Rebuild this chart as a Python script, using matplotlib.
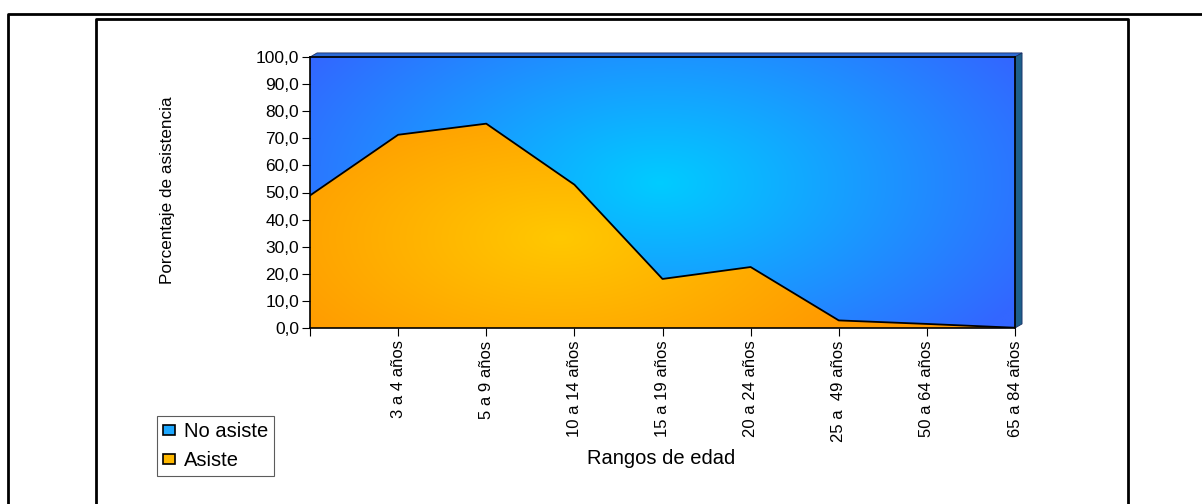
import numpy as np
import matplotlib.pyplot as plt
from matplotlib.lines import Line2D
from matplotlib.patches import Patch
from matplotlib.colors import to_rgb

plt.rcParams['font.family'] = ['Liberation Sans', 'DejaVu Sans']

# datos: porcentaje de asistencia por rango de edad
rangos = ['', '3 a 4 años', '5 a 9 años', '10 a 14 años', '15 a 19 años',
          '20 a 24 años', '25 a  49 años', '50 a 64 años', '65 a 84 años']
asiste = [48.9, 71.3, 75.4, 52.9, 18.1, 22.5, 2.8, 1.5, 0.1]
no_asiste = [100 - v for v in asiste]

fig = plt.figure(figsize=(12.02, 5.04), dpi=100)
ax = fig.add_axes([310 / 1202, 1 - 328 / 504, 705 / 1202, 271 / 504])

x = np.arange(len(rangos))
top = np.array(asiste) + np.array(no_asiste)


def gradient(c_in, c_out, cx, cy, rx, ry):
    # degradado radial en espacio de pixeles sobre los ejes
    gx = np.linspace(0, 8, 400)
    gy = np.linspace(0, 100, 300)
    X, Y = np.meshgrid(gx * 88.1, gy * 2.71)
    d = np.sqrt(((X - cx) / rx) ** 2 + ((Y - cy) / ry) ** 2)
    t = np.clip(d, 0, 1)[..., None]
    a = np.array(to_rgb(c_in))
    b = np.array(to_rgb(c_out))
    return a * (1 - t) + b * t


blue = ax.fill_between(x, asiste, top, color='none')
orange = ax.fill_between(x, 0, asiste, color='none')

im_b = ax.imshow(gradient('#00ccff', '#3366ff', 350, 145, 420, 230),
                 extent=[0, 8, 0, 100], origin='lower', aspect='auto', zorder=1)
im_b.set_clip_path(blue.get_paths()[0], ax.transData)
im_o = ax.imshow(gradient('#ffc800', '#ff9900', 250, 90, 330, 160),
                 extent=[0, 8, 0, 100], origin='lower', aspect='auto', zorder=1)
im_o.set_clip_path(orange.get_paths()[0], ax.transData)

ax.plot(x, asiste, color='black', linewidth=1.3, zorder=3)

# efecto 3D: cara superior y lateral
dx, dy = 0.08, 1.5
ax.fill([0, dx, 8 + dx, 8], [100, 100 + dy, 100 + dy, 100],
        color='#2d6bd6', edgecolor='#1a2f66', linewidth=0.6, clip_on=False, zorder=2)
ax.fill([8, 8 + dx, 8 + dx, 8], [0, dy, 100 + dy, 100],
        color='#1d5f8a', edgecolor='#1a2f66', linewidth=0.6, clip_on=False, zorder=2)

ax.set_xlim(0, 8)
ax.set_ylim(0, 100)
ax.set_yticks(np.arange(0, 101, 10))
ax.set_yticklabels([f'{v:.1f}'.replace('.', ',') for v in np.arange(0, 101, 10)])
ax.set_xticks(x)
ax.set_xticklabels(rangos, rotation=90)
ax.tick_params(axis='y', labelsize=12.5, length=6, width=0.8, pad=2)
ax.tick_params(axis='x', labelsize=12, length=6, width=0.8, pad=3)
for s in ax.spines.values():
    s.set_color('black')
    s.set_linewidth(1.2)
    s.set_zorder(4)

fig.text(168 / 1202, 1 - 190 / 504, 'Porcentaje de asistencia', rotation=90,
         ha='center', va='center', fontsize=12.3)
fig.text(661 / 1202, 1 - 458 / 504, 'Rangos de edad', ha='center', va='center',
         fontsize=14.5)

handles = [Patch(facecolor='#1ea8ff', edgecolor='black', linewidth=1.2, label='No asiste'),
           Patch(facecolor='#ffb800', edgecolor='black', linewidth=1.2, label='Asiste')]
leg = fig.legend(handles=handles, loc='upper left',
                 bbox_to_anchor=(157 / 1202, 1 - 416 / 504), fontsize=14.5,
                 frameon=True, fancybox=False, handlelength=0.6, handleheight=0.42,
                 handletextpad=0.45, borderpad=0.3, labelspacing=0.5,
                 borderaxespad=0)
leg.get_frame().set_edgecolor('#333333')
leg.get_frame().set_linewidth(0.8)

# marcos exteriores
fig.add_artist(Line2D([8 / 1202, 8 / 1202, 1], [0, 1 - 14 / 504, 1 - 14 / 504],
                      color='black', linewidth=2))
fig.add_artist(Line2D([96 / 1202, 96 / 1202, 1128 / 1202, 1128 / 1202],
                      [0, 1 - 19 / 504, 1 - 19 / 504, 0], color='black', linewidth=2))

fig.savefig('out.png', dpi=100)
